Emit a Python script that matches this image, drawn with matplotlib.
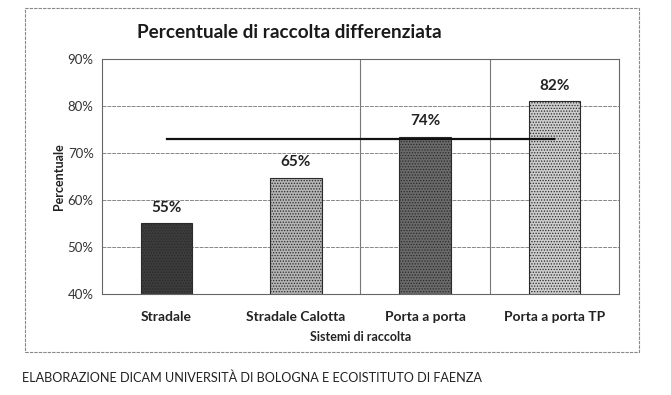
import numpy as np
import matplotlib
matplotlib.use("Agg")
import matplotlib.pyplot as plt
from matplotlib.patches import Rectangle

# Chart data
categories = ["Stradale", "Stradale Calotta", "Porta a porta", "Porta a porta TP"]
values = [0.55, 0.647, 0.735, 0.81]
value_labels = ["55%", "65%", "74%", "82%"]
target = 0.73
bar_colors = ["#3c3c3c", "#b4b4b4", "#6a6a6a", "#cdcdcd"]
bar_hatches = ["......", "......", "......", "......"]
y_ticks = [0.4, 0.5, 0.6, 0.7, 0.8, 0.9]

plt.rcParams['font.family'] = ['Lato', 'DejaVu Sans']
plt.rcParams['hatch.color'] = '#666666'
plt.rcParams['hatch.linewidth'] = 0.6

fig = plt.figure(figsize=(6.71, 3.95), dpi=100)
ax = fig.add_axes([0.152, 0.2557, 0.7705, 0.595])

x = np.arange(len(categories))
bars = ax.bar(x, values, width=0.4, color=bar_colors, edgecolor="#2a2a2a",
              linewidth=0.8, zorder=3)
for b, h in zip(bars, bar_hatches):
    b.set_hatch(h)

# labels above the bars
for xi, v, lab in zip(x, values, value_labels):
    ax.text(xi, v + 0.018, lab, ha='center', va='bottom', fontsize=11,
            fontweight='bold', color='#222222')

# reference line
ax.plot(x, [target] * len(x), color='#111111', linewidth=1.6, zorder=4)

ax.set_xlim(-0.5, 3.5)
ax.set_ylim(0.4, 0.9)
ax.set_yticks(y_ticks)
ax.set_yticklabels([f"{int(round(t * 100))}%" for t in y_ticks], fontsize=9.5, color='#333333')
ax.set_xticks(x)
ax.set_xticklabels(categories, fontsize=10, fontweight='bold', color='#222222')
ax.tick_params(axis='both', length=0)
ax.tick_params(axis='x', pad=12)
ax.tick_params(axis='y', pad=6)

ax.grid(axis='y', color='#888888', linewidth=0.7, linestyle=(0, (4, 1)), zorder=0)
for gx in [1.5, 2.5]:
    ax.axvline(gx, color='#777777', linewidth=0.8, zorder=0)
for s in ax.spines.values():
    s.set_color('#666666')
    s.set_linewidth(0.8)

ax.set_ylabel("Percentuale", fontsize=9, fontweight='bold', labelpad=2, color='#222222')
ax.set_xlabel("Sistemi di raccolta", fontsize=9, fontweight='bold', labelpad=6, color='#222222')

fig.text(0.204, 0.918, "Percentuale di raccolta differenziata", fontsize=13.6,
         fontweight='bold', color='#1a1a1a', va='center', ha='left')

# outer frame of the chart
fig.patches.append(Rectangle((25 / 671, 1 - 352 / 395), 614 / 671, 344 / 395,
                             transform=fig.transFigure, fill=False,
                             edgecolor='#888888', linewidth=0.8, linestyle=(0, (3, 1))))

fig.text(22 / 671, 1 - 378 / 395,
         "ELABORAZIONE DICAM UNIVERSITÀ DI BOLOGNA E ECOISTITUTO DI FAENZA",
         fontsize=9.1, color='#222222', va='center', ha='left')

fig.savefig("out.png", dpi=100, facecolor='white')
